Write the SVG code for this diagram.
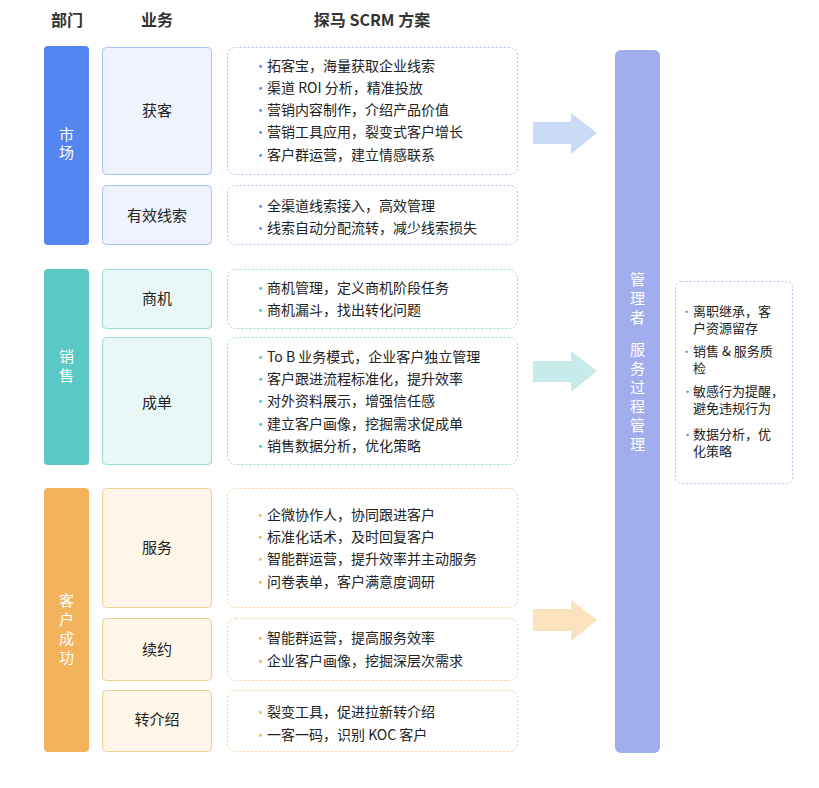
<svg xmlns="http://www.w3.org/2000/svg" width="819" height="788" viewBox="0 0 819 788">
<style>
text{font-family:"Noto Sans CJK SC","Noto Sans",sans-serif;}
.h{font-size:16px;font-weight:bold;fill:#333;text-anchor:middle}
.dept{fill:#fff;font-size:15px;text-anchor:middle}
.biz{font-size:15px;fill:#222;text-anchor:middle}
.it{font-size:14px;fill:#222}
.b{font-size:13px}
.det{fill:#fff;stroke-width:1;stroke-dasharray:2 2}
.m .bz{fill:#EEF3FD;stroke:#A9C4F5}.m .det{stroke:#A9C4F5}.m .b{fill:#5585F0}
.s .bz{fill:#E9F8F7;stroke:#9BDAD6}.s .det{stroke:#9BDAD6}.s .b{fill:#4FC3C0}
.c .bz{fill:#FEF6E8;stroke:#F3CE93}.c .det{stroke:#F3CE93}.c .b{fill:#F0B050}
.mi{font-size:13px;fill:#222}
.mb{font-size:11px;fill:#6C7BD8}
</style>
<rect width="819" height="788" fill="#fff"/>
<text class="h" x="67" y="26">部门</text>
<text class="h" x="157" y="26">业务</text>
<text class="h" x="372" y="26">探马 SCRM 方案</text>

<g id="market" class="m">
<rect x="44" y="46" width="45" height="199" rx="4" fill="#5585F0"/>
<text class="dept" x="66.5" y="140">市</text><text class="dept" x="66.5" y="158">场</text>
<rect class="bz" x="102.5" y="47.5" width="109" height="127" rx="4"/>
<text class="biz" x="157" y="116">获客</text>
<rect class="det" x="227.5" y="47.5" width="290" height="127" rx="8"/>
<g class="it"><text class="b" x="254" y="71">•</text><text x="267" y="71">拓客宝，海量获取企业线索</text>
<text class="b" x="254" y="93">•</text><text x="267" y="93">渠道 ROI 分析，精准投放</text>
<text class="b" x="254" y="115">•</text><text x="267" y="115">营销内容制作，介绍产品价值</text>
<text class="b" x="254" y="137">•</text><text x="267" y="137">营销工具应用，裂变式客户增长</text>
<text class="b" x="254" y="160">•</text><text x="267" y="160">客户群运营，建立情感联系</text></g>
<rect class="bz" x="102.5" y="185.5" width="109" height="59" rx="4"/>
<text class="biz" x="157" y="221">有效线索</text>
<rect class="det" x="227.5" y="185.5" width="290" height="59" rx="8"/>
<g class="it"><text class="b" x="254" y="211">•</text><text x="267" y="211">全渠道线索接入，高效管理</text>
<text class="b" x="254" y="233">•</text><text x="267" y="233">线索自动分配流转，减少线索损失</text></g>
</g>

<g id="sales" class="s">
<rect x="44" y="269" width="45" height="196" rx="4" fill="#5BC8C6"/>
<text class="dept" x="66.5" y="362">销</text><text class="dept" x="66.5" y="381">售</text>
<rect class="bz" x="102.5" y="269.5" width="109" height="59" rx="4"/>
<text class="biz" x="157" y="304">商机</text>
<rect class="det" x="227.5" y="269.5" width="290" height="59" rx="8"/>
<g class="it"><text class="b" x="254" y="293">•</text><text x="267" y="293">商机管理，定义商机阶段任务</text>
<text class="b" x="254" y="315">•</text><text x="267" y="315">商机漏斗，找出转化问题</text></g>
<rect class="bz" x="102.5" y="337.5" width="109" height="127" rx="4"/>
<text class="biz" x="157" y="408">成单</text>
<rect class="det" x="227.5" y="337.5" width="290" height="127" rx="8"/>
<g class="it"><text class="b" x="254" y="362">•</text><text x="267" y="362">To B 业务模式，企业客户独立管理</text>
<text class="b" x="254" y="384">•</text><text x="267" y="384">客户跟进流程标准化，提升效率</text>
<text class="b" x="254" y="406">•</text><text x="267" y="406">对外资料展示，增强信任感</text>
<text class="b" x="254" y="429">•</text><text x="267" y="429">建立客户画像，挖掘需求促成单</text>
<text class="b" x="254" y="451">•</text><text x="267" y="451">销售数据分析，优化策略</text></g>
</g>

<g id="customer" class="c">
<rect x="44" y="488" width="45" height="264" rx="4" fill="#F2B35C"/>
<text class="dept" x="66.5" y="606">客</text><text class="dept" x="66.5" y="625">户</text><text class="dept" x="66.5" y="644">成</text><text class="dept" x="66.5" y="663">功</text>
<rect class="bz" x="102.5" y="488.5" width="109" height="119" rx="4"/>
<text class="biz" x="157" y="553">服务</text>
<rect class="det" x="227.5" y="488.5" width="290" height="119" rx="8"/>
<g class="it"><text class="b" x="254" y="520">•</text><text x="267" y="520">企微协作人，协同跟进客户</text>
<text class="b" x="254" y="542">•</text><text x="267" y="542">标准化话术，及时回复客户</text>
<text class="b" x="254" y="564">•</text><text x="267" y="564">智能群运营，提升效率并主动服务</text>
<text class="b" x="254" y="587">•</text><text x="267" y="587">问卷表单，客户满意度调研</text></g>
<rect class="bz" x="102.5" y="618.5" width="109" height="62" rx="4"/>
<text class="biz" x="157" y="655">续约</text>
<rect class="det" x="227.5" y="618.5" width="290" height="62" rx="8"/>
<g class="it"><text class="b" x="254" y="643">•</text><text x="267" y="643">智能群运营，提高服务效率</text>
<text class="b" x="254" y="666">•</text><text x="267" y="666">企业客户画像，挖掘深层次需求</text></g>
<rect class="bz" x="102.5" y="690.5" width="109" height="61" rx="4"/>
<text class="biz" x="157" y="725">转介绍</text>
<rect class="det" x="227.5" y="690.5" width="290" height="61" rx="8"/>
<g class="it"><text class="b" x="254" y="717">•</text><text x="267" y="717">裂变工具，促进拉新转介绍</text>
<text class="b" x="254" y="740">•</text><text x="267" y="740">一客一码，识别 KOC 客户</text></g>
</g>

<g id="connectors">
<path d="M533 122H571V113L597 133L571 154V144H533Z" fill="#C9DBF7"/>
<path d="M533 361H571V351L597 371L571 392V382H533Z" fill="#C7EBEA"/>
<path d="M533 609H571V600L597 620L571 641V631H533Z" fill="#FBE3BE"/>
</g>

<g id="manager">
<rect x="615" y="50" width="45" height="703" rx="6" fill="#A1AEEE"/>
<g class="dept">
<text x="637.5" y="285">管</text><text x="637.5" y="304">理</text><text x="637.5" y="323">者</text>
<text x="637.5" y="355">服</text><text x="637.5" y="374">务</text><text x="637.5" y="393">过</text><text x="637.5" y="412">程</text><text x="637.5" y="431">管</text><text x="637.5" y="450">理</text>
</g>
</g>

<g id="manager-items">
<rect x="675.5" y="281.5" width="117" height="202" rx="6" fill="#fff" stroke="#B8C0EE" stroke-dasharray="2 2"/>
<g class="mi">
<text class="mb" x="681" y="316">•</text><text x="693" y="316">离职继承，客</text><text x="693" y="333">户资源留存</text>
<text class="mb" x="681" y="356">•</text><text x="693" y="356">销售 &amp; 服务质</text><text x="693" y="373">检</text>
<text class="mb" x="682" y="396">•</text><text x="693" y="396">敏感行为提醒，</text><text x="693" y="413">避免违规行为</text>
<text class="mb" x="682" y="439">•</text><text x="693" y="439">数据分析，优</text><text x="693" y="456">化策略</text>
</g>
</g>
</svg>
